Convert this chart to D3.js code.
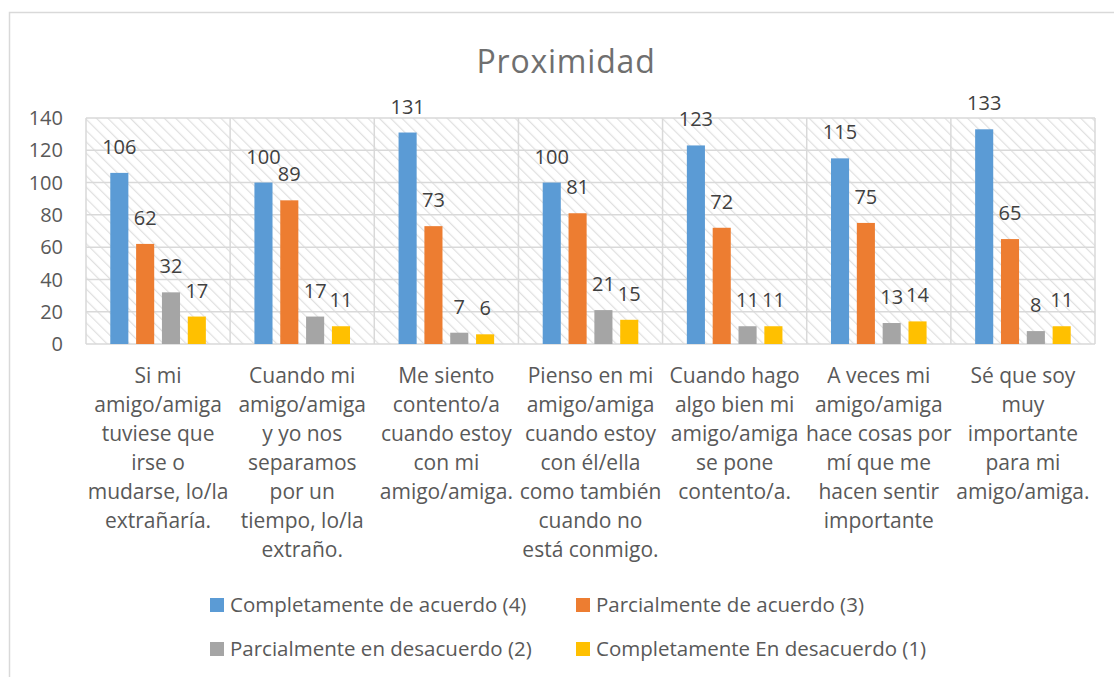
<!DOCTYPE html>
<meta charset="utf-8">
<style>
body { margin: 0; background: #fff; }
svg text { font-family: "Open Sans", sans-serif; }
.grid line { stroke: #d9d9d9; stroke-width: 1.5px; }
.ticks text { fill: #595959; font-size: 20px; }
.cats text { fill: #595959; font-size: 21px; }
.vals text { fill: #404040; font-size: 20px; }
.legend text { fill: #595959; font-size: 20.5px; }
</style>
<body>
<svg width="1114" height="677"></svg>
<script src="https://cdn.jsdelivr.net/npm/d3@7"></script>
<script>

// Categories (already wrapped the way the original shows them)
var categories = [
  ["Si mi", "amigo/amiga", "tuviese que", "irse o", "mudarse, lo/la", "extrañaría."],
  ["Cuando mi", "amigo/amiga", "y yo nos", "separamos", "por un", "tiempo, lo/la", "extraño."],
  ["Me siento", "contento/a", "cuando estoy", "con mi", "amigo/amiga."],
  ["Pienso en mi", "amigo/amiga", "cuando estoy", "con él/ella", "como también", "cuando no", "está conmigo."],
  ["Cuando hago", "algo bien mi", "amigo/amiga", "se pone", "contento/a."],
  ["A veces mi", "amigo/amiga", "hace cosas por", "mí que me", "hacen sentir", "importante"],
  ["Sé que soy", "muy", "importante", "para mi", "amigo/amiga."]
];

var seriesNames = [
  "Completamente de acuerdo (4)",
  "Parcialmente de acuerdo (3)",
  "Parcialmente en desacuerdo (2)",
  "Completamente En desacuerdo (1)"
];
var seriesColors = ["#5b9bd5", "#ed7d31", "#a5a5a5", "#ffc000"];

var completoAcuerdo   = [106, 100, 131, 100, 123, 115, 133];
var parcialAcuerdo    = [62, 89, 73, 81, 72, 75, 65];
var parcialDesacuerdo = [32, 17, 7, 21, 11, 13, 8];
var completoDesacuerdo = [17, 11, 6, 15, 11, 14, 11];

var yTicks = [0, 20, 40, 60, 80, 100, 120, 140];

var values = [completoAcuerdo, parcialAcuerdo, parcialDesacuerdo, completoDesacuerdo];

var svg = d3.select("svg");

// outer chart border (only left and top show in the picture)
svg.append("rect")
    .attr("x", 9.5).attr("y", 12.5)
    .attr("width", 1130).attr("height", 700)
    .attr("fill", "#fff")
    .attr("stroke", "#d9d9d9")
    .attr("stroke-width", 1.5);

// plot box
var pLeft = 86, pRight = 1095, pTop = 118, pBottom = 344;

var x0 = d3.scaleBand()
    .domain(d3.range(categories.length))
    .range([pLeft, pRight]);

var x1 = d3.scaleBand()
    .domain(d3.range(seriesNames.length))
    .range([0, x0.bandwidth()])
    .paddingInner(0.3)
    .paddingOuter(0.94);

var y = d3.scaleLinear()
    .domain([0, 140])
    .range([pBottom, pTop]);

// hatched background
var defs = svg.append("defs");
var pat = defs.append("pattern")
    .attr("id", "hatch")
    .attr("patternUnits", "userSpaceOnUse")
    .attr("width", 8).attr("height", 8)
    .attr("patternTransform", "rotate(-45)");
pat.append("rect").attr("width", 8).attr("height", 8).attr("fill", "#fff");
pat.append("line")
    .attr("x1", 0).attr("y1", 0).attr("x2", 0).attr("y2", 8)
    .attr("stroke", "#e0e0e0").attr("stroke-width", 2.4);

svg.append("rect")
    .attr("x", pLeft).attr("y", pTop)
    .attr("width", pRight - pLeft).attr("height", pBottom - pTop)
    .attr("fill", "url(#hatch)");

// gridlines
var grid = svg.append("g").attr("class", "grid");
grid.selectAll("line.h")
    .data(yTicks)
    .enter().append("line")
      .attr("class", "h")
      .attr("x1", pLeft).attr("x2", pRight)
      .attr("y1", function(d) { return y(d); })
      .attr("y2", function(d) { return y(d); });

grid.selectAll("line.v")
    .data(d3.range(categories.length + 1))
    .enter().append("line")
      .attr("class", "v")
      .attr("x1", function(d) { return d < categories.length ? x0(d) : pRight; })
      .attr("x2", function(d) { return d < categories.length ? x0(d) : pRight; })
      .attr("y1", pTop).attr("y2", pBottom);

// y tick labels
svg.append("g")
    .attr("class", "ticks")
    .selectAll("text")
    .data(yTicks)
    .enter().append("text")
      .attr("x", 63)
      .attr("y", function(d) { return y(d); })
      .attr("dy", "0.36em")
      .attr("text-anchor", "end")
      .text(function(d) { return d; });

// bars
var groups = svg.append("g")
    .selectAll("g")
    .data(categories)
    .enter().append("g")
      .attr("transform", function(d, i) { return "translate(" + x0(i) + ",0)"; });

groups.selectAll("rect")
    .data(function(d, i) { return values.map(function(s, k) { return {k: k, v: s[i]}; }); })
    .enter().append("rect")
      .attr("x", function(d) { return x1(d.k); })
      .attr("y", function(d) { return y(d.v); })
      .attr("width", x1.bandwidth())
      .attr("height", function(d) { return pBottom - y(d.v); })
      .attr("fill", function(d) { return seriesColors[d.k]; });

// value labels
groups.append("g")
    .attr("class", "vals")
    .selectAll("text")
    .data(function(d, i) { return values.map(function(s, k) { return {k: k, v: s[i]}; }); })
    .enter().append("text")
      .attr("x", function(d) { return x1(d.k) + x1.bandwidth() / 2; })
      .attr("y", function(d) { return y(d.v) - 19; })
      .attr("text-anchor", "middle")
      .text(function(d) { return d.v; });

// category labels
var cat = svg.append("g")
    .attr("class", "cats")
    .selectAll("text")
    .data(categories)
    .enter().append("text")
      .attr("text-anchor", "middle")
      .attr("x", function(d, i) { return x0(i) + x0.bandwidth() / 2; })
      .attr("y", 383);

cat.selectAll("tspan")
    .data(function(d) { return d; })
    .enter().append("tspan")
      .attr("x", function() { return this.parentNode.getAttribute("x"); })
      .attr("dy", function(d, j) { return j === 0 ? 0 : 29; })
      .text(function(d) { return d; });

// title
svg.append("text")
    .attr("x", 566)
    .attr("y", 73)
    .attr("text-anchor", "middle")
    .attr("fill", "#6f6f6f")
    .style("font-size", "32px")
    .style("letter-spacing", "0.8px")
    .text("Proximidad");

// legend, two columns by two rows
var legX = [210, 576], legY = [605, 649];
var leg = svg.append("g")
    .attr("class", "legend")
    .selectAll("g")
    .data(seriesNames)
    .enter().append("g")
      .attr("transform", function(d, i) {
        return "translate(" + legX[i % 2] + "," + legY[Math.floor(i / 2)] + ")";
      });

leg.append("rect")
    .attr("x", 0).attr("y", -7)
    .attr("width", 14).attr("height", 14)
    .attr("fill", function(d, i) { return seriesColors[i]; });

leg.append("text")
    .attr("x", 20)
    .attr("dy", "0.36em")
    .text(function(d) { return d; });

</script>
</body>
